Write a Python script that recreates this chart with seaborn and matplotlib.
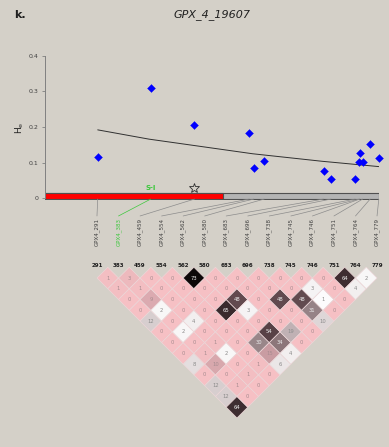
import matplotlib
matplotlib.use('Agg')
import numpy as np
import matplotlib.pyplot as plt
import seaborn as sns
from matplotlib.patches import Polygon, ConnectionPatch
from matplotlib.colors import LinearSegmentedColormap, to_rgb

# SNP positions and expected heterozygosity (He)
snp_pos = [291, 383, 459, 554, 562, 580, 683, 696, 738, 745, 746, 751, 764, 779]
he_vals = [0.117, 0.310, 0.206, 0.184, 0.084, 0.105, 0.077, 0.053, 0.053,
           0.101, 0.126, 0.101, 0.152, 0.114]
snp_names = ['GPX4_%d' % p for p in snp_pos]

# trend line
trend_pos = [291, 380, 459, 560, 680, 779]
trend_he = [0.192, 0.166, 0.148, 0.125, 0.104, 0.089]

# gene bar: region and coloured part
region_start = 200
region_end = 779
red_end = 508
star_pos = 459
site_label = 'S-I'
site_pos = 383
site_snp = 383

# LD values (r2 x 100), row i = SNP i against SNPs i+1 .. 13
ld_rows = [
    [1, 1, 0, 0, 12, 0, 0, 0, 8, 0, 12, 12, 64],
    [3, 1, 9, 2, 0, 2, 0, 1, 10, 0, 1, 0],
    [0, 0, 0, 0, 4, 0, 1, 2, 0, 1, 0],
    [0, 0, 0, 0, 0, 0, 0, 0, 1, 0],
    [73, 0, 0, 65, 0, 0, 30, 15, 6],
    [0, 0, 48, 3, 0, 54, 34, 4],
    [0, 0, 0, 0, 0, 19, 0],
    [0, 0, 48, 0, 0, 0],
    [0, 0, 48, 31, 10],
    [0, 3, 1, 0],
    [0, 0, 0],
    [64, 4],
    [2],
]
# cells drawn in the grey scale (all others are pink)
shaded_pairs = [(4, 5), (11, 12), (12, 13), (11, 13), (9, 11), (9, 12), (5, 9),
                (2, 10), (1, 7), (1, 5), (2, 7), (0, 5), (0, 9), (0, 11), (0, 12),
                (5, 13), (4, 13), (0, 13), (4, 8), (5, 8), (7, 10), (8, 11),
                (8, 12), (5, 11), (5, 12), (4, 11), (6, 12), (8, 13)]

BG = '#d4d0c8'
sns.set_style('white')
plt.rcParams['font.family'] = ['DejaVu Sans']

fig = plt.figure(figsize=(3.89, 4.47), dpi=100, facecolor=BG)

# ---- top panel: He along the gene ----
ax = fig.add_axes([0.1165, 0.5523, 0.8573, 0.3311])
ax.set_facecolor(BG)
sns.lineplot(x=trend_pos, y=trend_he, ax=ax, color='#303030', lw=0.7)
sns.scatterplot(x=snp_pos, y=he_vals, ax=ax, marker='D', s=16,
                color='#0000ff', edgecolor='#0000ff', linewidth=0.3, zorder=3,
                clip_on=False)

ax.barh(0.006, region_end - region_start, left=region_start, height=0.016,
        color='#b4b4b4', edgecolor='#505050', linewidth=0.8)
ax.barh(0.006, red_end - region_start, left=region_start, height=0.016,
        color='#ff0000', edgecolor='#505050', linewidth=0.8)
ax.plot(star_pos, 0.029, marker='*', ms=7, mfc='none', mec='#303030', mew=0.6)
ax.text(site_pos, 0.028, site_label, color='#3cc83c', fontsize=5, weight='bold',
        ha='center', va='center')

ax.set_xlim(region_start, region_end)
ax.set_ylim(-0.005, 0.41)
for s in ['top', 'right', 'bottom']:
    ax.spines[s].set_visible(False)
ax.spines['left'].set_bounds(0, 0.4)
ax.spines['left'].set_color('#808080')
ax.spines['left'].set_linewidth(0.7)
ax.set_xticks([])
ax.set_yticks([0, 0.1, 0.2, 0.3, 0.4])
ax.set_yticklabels(['0', '0.1', '0.2', '0.3', '0.4'])
ax.tick_params(axis='y', length=2, width=0.6, color='#808080', labelsize=4.5,
               labelcolor='#404040', pad=3, left=True)
ax.set_xlabel('')
ax.set_ylabel('')

# ---- LD triangle ----
ax2 = fig.add_axes([0.2216, 0.0604, 0.7753, 0.3803])
ax2.set_xlim(-0.5, 13.5)
ax2.set_ylim(-7.094, 0.8)
ax2.axis('off')

gray_cmap = LinearSegmentedColormap.from_list(
    'ld', [(0, '#ffffff'), (0.25, '#c2b4b6'), (0.6, '#6a5055'), (0.85, '#4a363a'),
           (1, '#0c0808')])
pink = np.array(to_rgb('#f6c0c4'))
pink_dark = np.array(to_rgb('#c99ca2'))

for i, row in enumerate(ld_rows):
    for k, v in enumerate(row):
        j = i + 1 + k
        cx = (i + j) / 2
        cy = -(j - i) / 2
        if (i, j) in shaded_pairs:
            fc = gray_cmap(min(v / 73, 1))
            tc = '#eeeeee' if v >= 30 else '#8c8c8c'
        else:
            t = min(v / 15, 1)
            fc = pink * (1 - t) + pink_dark * t
            tc = '#a88c90'
        ax2.add_patch(Polygon([(cx, cy + 0.5), (cx + 0.5, cy), (cx, cy - 0.5),
                               (cx - 0.5, cy)], closed=True, facecolor=fc,
                              edgecolor='#ecd6d8', linewidth=0.5))
        ax2.text(cx, cy, str(v), ha='center', va='center', fontsize=3.8, color=tc)

for i, p in enumerate(snp_pos):
    ax2.text(i, 0.1, str(p), ha='center', va='center', fontsize=4,
             weight='bold', color='#202020')
    col = '#3cc83c' if p == site_snp else '#404040'
    ax2.text(i, 2.284, snp_names[i], rotation=90, ha='center', va='top',
             fontsize=4, color=col)
    line_col = '#3cc83c' if p == site_snp else '#8c8c8c'
    con = ConnectionPatch(xyA=(p, -0.002), coordsA=ax.transData,
                          xyB=(i, 2.38), coordsB=ax2.transData,
                          color=line_col, linewidth=0.5)
    fig.add_artist(con)

fig.text(20 / 389, 1 - 128 / 447, r'H$_\mathregular{e}$', rotation=90,
         fontsize=6.5, ha='center', va='center', color='#202020')
fig.text(212 / 389, 1 - 15 / 447, 'GPX_4_19607', style='italic', fontsize=8,
         ha='center', va='center', color='#202020')
fig.text(14 / 389, 1 - 15 / 447, 'k.', weight='bold', fontsize=8,
         ha='left', va='center', color='#202020')

fig.savefig('out.png', dpi=100, facecolor=BG)
